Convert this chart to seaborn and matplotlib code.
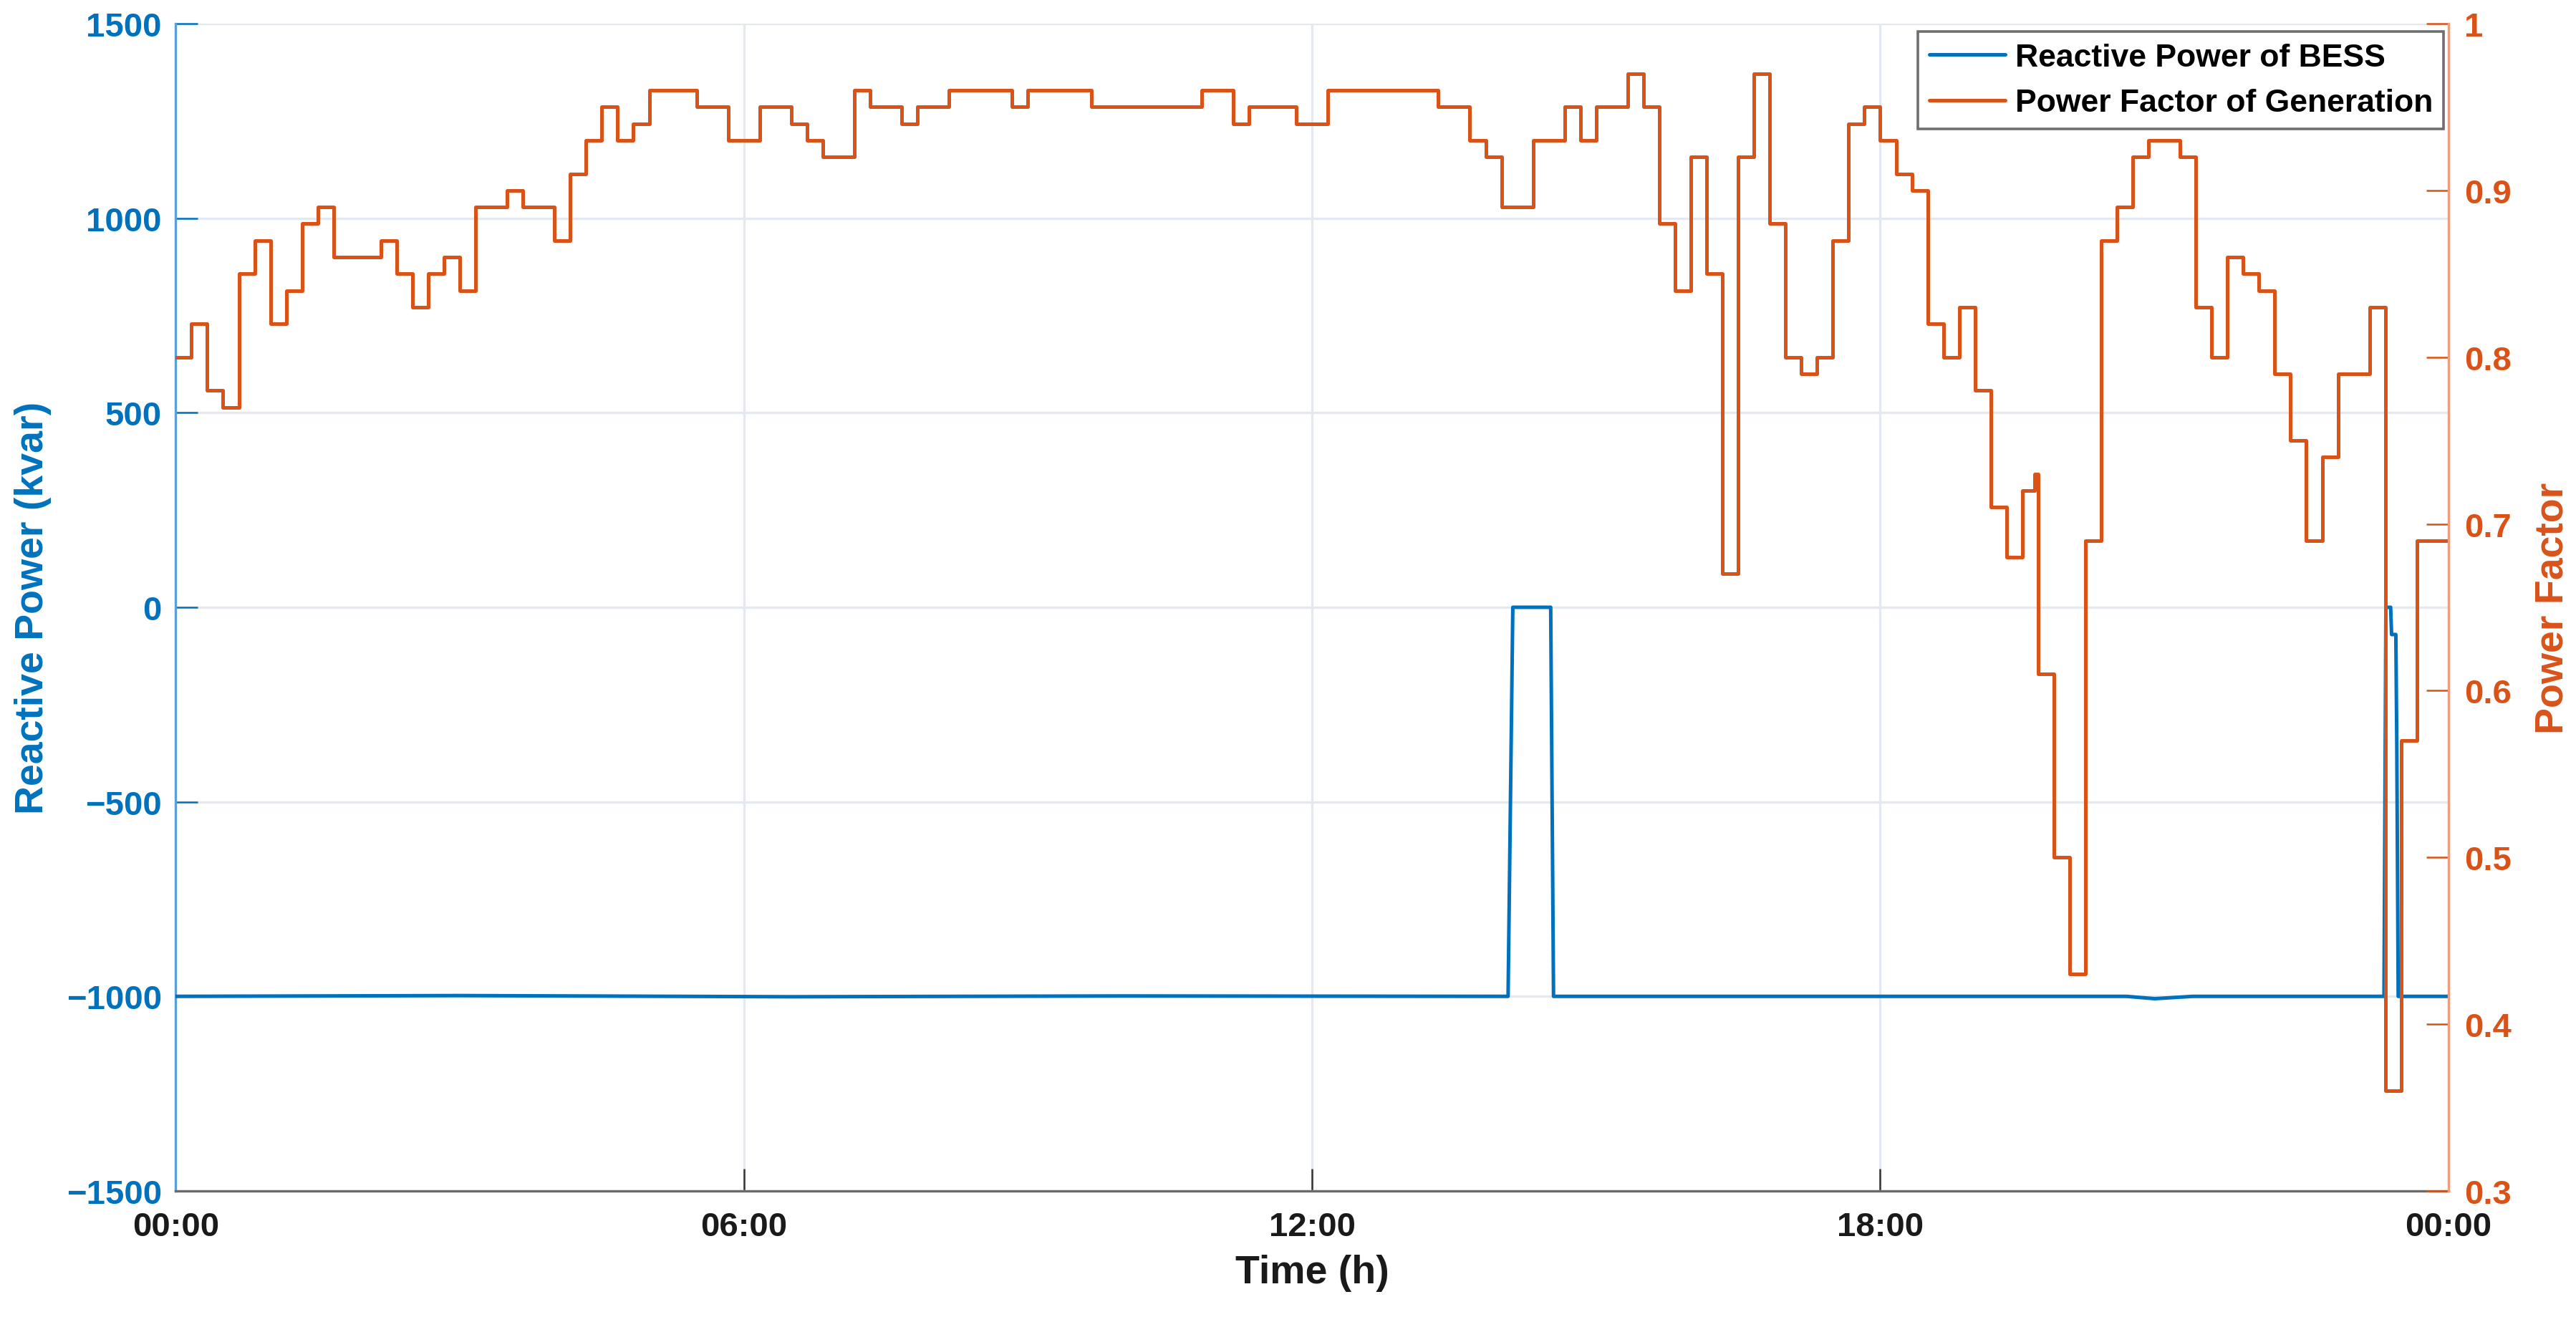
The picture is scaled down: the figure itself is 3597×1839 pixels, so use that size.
import numpy as np
import pandas as pd
import matplotlib
matplotlib.use("Agg")
import matplotlib.pyplot as plt
import seaborn as sns
from matplotlib.ticker import FixedLocator, FuncFormatter
from matplotlib.lines import Line2D
from matplotlib import font_manager

# ---------------- data ----------------
# Power factor of generation (step values, time in hours)
pf_time_h = [0.0, 0.1667, 0.3333, 0.5, 0.6667, 0.8333, 1.0, 1.1667, 1.3333, 1.5,
             1.6667, 2.1667, 2.3333, 2.5, 2.6667, 2.8333, 3.0, 3.1667, 3.5, 3.6667,
             4.0, 4.1667, 4.3333, 4.5, 4.6667, 4.8333, 5.0, 5.5, 5.8333, 6.1667,
             6.5, 6.6667, 6.8333, 7.1667, 7.3333, 7.6667, 7.8333, 8.1667, 8.8333, 9.0,
             9.6667, 10.8333, 11.1667, 11.3333, 11.8333, 12.1667, 13.3333, 13.6667, 13.8333, 14.0,
             14.3333, 14.6667, 14.8333, 15.0, 15.3333, 15.5, 15.6667, 15.8333, 16.0, 16.1667,
             16.3333, 16.5, 16.6667, 16.8333, 17.0, 17.1667, 17.3333, 17.5, 17.6667, 17.8333,
             18.0, 18.1667, 18.3333, 18.5, 18.6667, 18.8333, 19.0, 19.1667, 19.3333, 19.5,
             19.63, 19.6667, 19.8333, 20.0, 20.1667, 20.3333, 20.5, 20.6667, 20.8333, 21.1667,
             21.3333, 21.5, 21.6667, 21.8333, 22.0, 22.1667, 22.3333, 22.5, 22.6667, 22.8333,
             23.1667, 23.3333, 23.5, 23.6667, 24.0]
pf_value = [0.80, 0.82, 0.78, 0.77, 0.85, 0.87, 0.82, 0.84, 0.88, 0.89,
            0.86, 0.87, 0.85, 0.83, 0.85, 0.86, 0.84, 0.89, 0.90, 0.89,
            0.87, 0.91, 0.93, 0.95, 0.93, 0.94, 0.96, 0.95, 0.93, 0.95,
            0.94, 0.93, 0.92, 0.96, 0.95, 0.94, 0.95, 0.96, 0.95, 0.96,
            0.95, 0.96, 0.94, 0.95, 0.94, 0.96, 0.95, 0.93, 0.92, 0.89,
            0.93, 0.95, 0.93, 0.95, 0.97, 0.95, 0.88, 0.84, 0.92, 0.85,
            0.67, 0.92, 0.97, 0.88, 0.80, 0.79, 0.80, 0.87, 0.94, 0.95,
            0.93, 0.91, 0.90, 0.82, 0.80, 0.83, 0.78, 0.71, 0.68, 0.72,
            0.73, 0.61, 0.50, 0.43, 0.69, 0.87, 0.89, 0.92, 0.93, 0.92,
            0.83, 0.80, 0.86, 0.85, 0.84, 0.79, 0.75, 0.69, 0.74, 0.79,
            0.83, 0.36, 0.57, 0.69, 0.69]

# Reactive power of BESS (kvar)
q_time_h = [0.0, 3.0, 6.5, 10.0, 14.07, 14.12, 14.52, 14.55, 17.0, 20.6,
            20.9, 21.3, 23.32, 23.34, 23.39, 23.40, 23.445, 23.455, 23.47, 24.0]
q_kvar = [-1000, -998, -1001, -999, -1000, 0, 0, -1000, -1000, -1000,
          -1006, -1000, -1000, 0, 0, -70, -70, -350, -1000, -1000]

x_ticks = [0, 6, 12, 18, 24]
x_tick_labels = ["00:00", "06:00", "12:00", "18:00", "00:00"]
q_ticks = [-1500, -1000, -500, 0, 500, 1000, 1500]
pf_ticks = [0.3, 0.4, 0.5, 0.6, 0.7, 0.8, 0.9, 1.0]

series_labels = ["Reactive Power of BESS", "Power Factor of Generation"]

# ---------------- style ----------------
BLUE = "#0072BD"
ORANGE = "#D95319"
GRID = "#E4E9EF"

sns.set_theme(style="white")
plt.rcParams["font.family"] = ["Liberation Sans", "DejaVu Sans"]
plt.rcParams["font.weight"] = "bold"
plt.rcParams["axes.labelweight"] = "bold"
plt.rcParams["axes.unicode_minus"] = True

available = {f.name for f in font_manager.fontManager.ttflist}
TICK_FAMILY = ["Liberation Sans Narrow"] if "Liberation Sans Narrow" in available else ["Liberation Sans"]
TICK_SIZE = 18.5 if TICK_FAMILY[0] == "Liberation Sans Narrow" else 17

df_q = pd.DataFrame({"t": q_time_h, "q": q_kvar})
df_pf = pd.DataFrame({"t": pf_time_h, "pf": pf_value})

fig = plt.figure(figsize=(17.99, 9.2), dpi=200)
ax = fig.add_axes([0.0682, 0.0957, 0.8820, 0.8858])
ax2 = ax.twinx()

sns.lineplot(data=df_q, x="t", y="q", ax=ax, color=BLUE, linewidth=1.8,
             sort=False, estimator=None, legend=False, zorder=3)
sns.lineplot(data=df_pf, x="t", y="pf", ax=ax2, color=ORANGE, linewidth=1.8,
             sort=False, estimator=None, legend=False, drawstyle="steps-post")

ax.set_xlim(0, 24)
ax.set_ylim(-1500, 1500)
ax2.set_ylim(0.3, 1.0)

ax.xaxis.set_major_locator(FixedLocator(x_ticks))
ax.set_xticklabels(x_tick_labels)
ax.yaxis.set_major_locator(FixedLocator(q_ticks))
ax2.yaxis.set_major_locator(FixedLocator(pf_ticks))
ax2.yaxis.set_major_formatter(FuncFormatter(lambda v, p: f"{v:g}"))

ax.grid(True, color=GRID, linewidth=1.2)
ax.set_axisbelow(True)
ax2.grid(False)

ax.tick_params(axis="x", direction="in", length=11, width=0.9, colors="#333333",
               labelcolor="#1a1a1a", labelsize=TICK_SIZE, pad=10, top=False, bottom=True)
ax.tick_params(axis="y", direction="in", length=11, width=0.9, colors=BLUE,
               labelsize=TICK_SIZE, pad=7, left=True, right=False)
ax2.tick_params(axis="y", direction="in", length=11, width=0.9, colors=ORANGE,
                labelsize=TICK_SIZE, pad=8, right=True, left=False)

for lab in ax.get_xticklabels() + ax.get_yticklabels() + ax2.get_yticklabels():
    lab.set_fontfamily(TICK_FAMILY)
    lab.set_fontweight("bold")

for a in (ax, ax2):
    a.spines["top"].set_visible(False)
ax.spines["left"].set_color("#5AA0D6")
ax.spines["bottom"].set_color("#6a6a6a")
ax.spines["right"].set_visible(False)
ax2.spines["left"].set_visible(False)
ax2.spines["bottom"].set_visible(False)
ax2.spines["right"].set_color("#EE9E7E")
for s in ("left", "bottom"):
    ax.spines[s].set_linewidth(1.2)
ax2.spines["right"].set_linewidth(1.2)

ax.set_xlabel("Time (h)", fontsize=20, color="#1a1a1a")
ax.set_ylabel("Reactive Power (kvar)", fontsize=20, color=BLUE)
ax2.set_ylabel("Power Factor", fontsize=20, color=ORANGE)
ax.xaxis.set_label_coords(0.5, -0.054)
ax.yaxis.set_label_coords(-0.0545, 0.5)
ax2.yaxis.set_label_coords(1.0376, 0.5)

handles = [Line2D([], [], color=BLUE, linewidth=1.8),
           Line2D([], [], color=ORANGE, linewidth=1.8)]
leg = ax2.legend(handles, series_labels, loc="upper right",
                 bbox_to_anchor=(0.998, 0.993), borderaxespad=0,
                 fontsize=16, frameon=True, fancybox=False, framealpha=1,
                 edgecolor="#6e6e6e", handlelength=2.4, handletextpad=0.3,
                 borderpad=0.35, labelspacing=0.5)
leg.get_frame().set_linewidth(1.3)
for t in leg.get_texts():
    t.set_color("#000000")

fig.savefig("out.png", dpi=200)
